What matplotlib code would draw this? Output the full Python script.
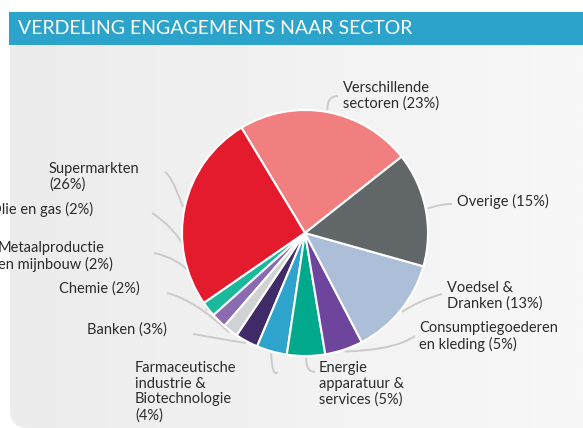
import numpy as np
import matplotlib.pyplot as plt
from matplotlib.patches import FancyBboxPatch, Rectangle, PathPatch
from matplotlib.path import Path
from matplotlib.colors import LinearSegmentedColormap

# data
sectors = ["Verschillende\nsectoren", "Supermarkten", "Olie en gas",
           "Metaalproductie\nen mijnbouw", "Chemie", "Banken",
           "Farmaceutische\nindustrie &\nBiotechnologie", "Energie\napparatuur &\nservices",
           "Consumptiegoederen\nen kleding", "Voedsel &\nDranken", "Overige"]
pct_sep = [" ", "\n", " ", " ", " ", " ", "\n", " ", " ", " ", " "]
shares = [23, 26, 2, 2, 2, 3, 4, 5, 5, 13, 15]
colors = ["#f17f80", "#e31b2d", "#1bb99b", "#8a6bb0", "#d0d2d3", "#3e2b68",
          "#2ea3cc", "#00a98b", "#6e459c", "#adbed9", "#616669"]

# layout (pixel coords): label left x, centre y of first line
label_pos = [(343, 90), (49, 171), (-10, 211), (-2, 250), (59, 290), (87, 331),
             (135, 370), (319, 370), (419, 330), (447, 290), (457, 203)]
# leader line: (elbow point, end point)
leaders = [((327, 96), (338, 96)), ((172, 176), (165, 172)), ((195, 240), (152, 213)),
           ((200, 262), (154, 253)), ((195, 300), (167, 293)), ((215, 338), (193, 334)),
           ((272, 378), (278, 372)), ((306, 372), (315, 372)), ((395, 350), (415, 336)),
           ((420, 300), (442, 294)), ((440, 204), (452, 204))]

W, H = 583, 428
cx, cy, r = 305, 233, 123

fig = plt.figure(figsize=(W / 100, H / 100), dpi=100)
ax = fig.add_axes([0, 0, 1, 1])

# background panel with gradient
panel = FancyBboxPatch((10, 20), 700, H - 20, boxstyle="round,pad=0,rounding_size=18",
                       facecolor="none", edgecolor="none")
ax.add_patch(panel)
cmap = LinearSegmentedColormap.from_list("bg", ["#ececec", "#f8f8f8"])
img = ax.imshow(np.linspace(0, 1, 256).reshape(1, -1), extent=(10, W, H, 20), cmap=cmap,
                aspect="auto", zorder=0)
img.set_clip_path(panel)

# title bar
ax.add_patch(Rectangle((9, 12), 700, 33, facecolor="#2ca3cb", edgecolor="none", zorder=1))
ax.text(18, 28.5, "VERDELING ENGAGEMENTS NAAR SECTOR", color="white", fontsize=14,
        family="Lato", va="center", ha="left", zorder=2)

# pie
wedges, _ = ax.pie(shares, colors=colors, startangle=-38.3, counterclock=False,
                   center=(cx, cy), radius=r,
                   wedgeprops=dict(edgecolor="white", linewidth=1.5), frame=True)
for w in wedges:
    w.set_zorder(3)

for i, w in enumerate(wedges):
    mid = np.deg2rad((w.theta1 + w.theta2) / 2)
    start = (cx + (r + 2) * np.cos(mid), cy + (r + 2) * np.sin(mid))
    ctrl, end = leaders[i]
    path = Path([start, ctrl, end], [Path.MOVETO, Path.CURVE3, Path.CURVE3])
    ax.add_patch(PathPatch(path, facecolor="none", edgecolor="#cbcbcb", lw=1.4, zorder=2))
    x, y = label_pos[i]
    ax.text(x, y - 9, sectors[i] + pct_sep[i] + "(%d%%)" % shares[i], fontsize=10.5,
            family="Lato", color="#2b2b2b", ha="left", va="top", linespacing=1.15, zorder=4)

ax.set_xlim(0, W)
ax.set_ylim(H, 0)
ax.set_aspect("auto")
ax.axis("off")
fig.savefig("out.png", dpi=100, facecolor="white")
